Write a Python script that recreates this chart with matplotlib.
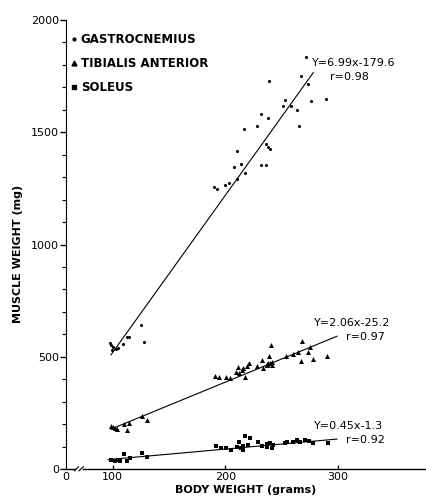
import numpy as np
import matplotlib
matplotlib.use("Agg")
import matplotlib.pyplot as plt
from matplotlib.lines import Line2D

plt.rcParams['font.family'] = ['DejaVu Sans']

# gastrocnemius (body weight g, muscle weight mg)
gas_x = [271.8, 239.2, 267.1, 273.9, 253.2, 251.1, 258.5, 264.1, 276.0, 289.3,
         232.1, 238.0, 228.0, 217.0, 265.9, 236.0, 238.3, 239.8, 210.2, 214.3,
         208.1, 232.1, 236.0, 217.6, 210.2, 203.4, 199.6, 190.3, 193.0,
         124.9, 127.8, 108.9, 112.4, 114.8, 97.6, 98.5, 100.3, 102.9, 99.4, 104.7]
gas_y = [1834, 1728, 1752, 1715, 1642, 1617, 1618, 1598, 1640, 1649,
         1583, 1564, 1528, 1514, 1527, 1446, 1436, 1427, 1416, 1357,
         1347, 1353, 1354, 1320, 1292, 1273, 1265, 1255, 1249,
         641, 567, 557, 589, 587, 561, 552, 543, 535, 530, 539]

# tibialis anterior
tib_x = [190.9, 194.8, 200.4, 204.3, 209.6, 211.1, 212.5, 214.7, 216.1, 217.9,
         219.1, 220.9, 228.0, 233.0, 233.9, 237.4, 239.2, 238.3, 240.4, 241.3,
         237.0, 240.0, 242.0, 254.0, 260.5, 265.0, 268.5, 267.4, 273.9, 275.4,
         278.3, 290.2,
         98.5, 100.5, 102.0, 104.1, 110.0, 114.8, 112.4, 126.3, 130.2]
tib_y = [414, 408, 411, 407, 431, 456, 426, 441, 449, 411,
         459, 471, 459, 486, 451, 463, 503, 471, 552, 463,
         468, 470, 475, 503, 511, 522, 571, 482, 522, 542,
         490, 503,
         193, 188, 181, 177, 200, 206, 174, 235, 218]

# soleus
sol_x = [191.8, 196.0, 200.7, 204.9, 210.2, 212.5, 213.8, 216.1, 217.6, 222.0,
         215.6, 220.5, 229.4, 232.4, 237.4, 239.8, 236.9, 241.3, 242.8, 253.2,
         255.2, 260.0, 263.6, 266.5, 270.9, 274.8, 277.8, 291.6,
         98.5, 102.0, 105.0, 106.5, 110.0, 112.4, 115.4, 125.8, 130.2]
sol_y = [104, 95, 92, 85, 99, 119, 92, 104, 147, 137,
         85, 107, 119, 104, 110, 114, 99, 95, 107, 114,
         119, 122, 129, 119, 129, 126, 117, 114,
         40, 37, 40, 37, 65, 37, 48, 73, 52]

# regression lines: slope, intercept, x range
fits = [(6.99, -179.6, 98.5, 278.3),
        (2.06, -25.2, 98.5, 299.4),
        (0.45, -1.3, 96.0, 299.4)]
eq_labels = [("Y=6.99x-179.6", "r=0.98"),
             ("Y=2.06x-25.2", "r=0.97"),
             ("Y=0.45x-1.3", "r=0.92")]
# (equation x, equation y, r x, r y) in data units
eq_pos = [(277, 1808, 293, 1746),
          (279, 650, 307, 588),
          (279, 192, 307, 129)]

fig = plt.figure(figsize=(4.26, 4.96), dpi=100)
ax = fig.add_axes([0.155, 0.0544, 0.845, 0.9053])

ax.scatter(gas_x, gas_y, marker='o', s=5, color='black', linewidths=0)
ax.scatter(tib_x, tib_y, marker='^', s=13, color='black', linewidths=0)
ax.scatter(sol_x, sol_y, marker='s', s=10, color='black', linewidths=0)

for (m, b, x0, x1) in fits:
    xs = np.array([x0, x1])
    ax.plot(xs, m * xs + b, color='black', lw=0.8)

for (eq, r), (ex, ey, rx, ry) in zip(eq_labels, eq_pos):
    ax.text(ex, ey, eq, fontsize=8, ha='left', va='center')
    ax.text(rx, ry, r, fontsize=8, ha='left', va='center')

ax.set_xlim(58.5, 378.5)
ax.set_ylim(0, 2000)

ax.spines['top'].set_visible(False)
ax.spines['right'].set_visible(False)
ax.spines['bottom'].set_visible(False)
# broken x axis
ax.plot([58.5, 66.5], [0, 0], color='black', lw=1, clip_on=False)
ax.plot([73.5, 378.5], [0, 0], color='black', lw=1, clip_on=False)
ax.plot([66.0, 69.5], [-8, 10], color='black', lw=0.8, clip_on=False)
ax.plot([70.0, 74.0], [-8, 10], color='black', lw=0.8, clip_on=False)

ax.set_yticks([0, 500, 1000, 1500, 2000])
ax.set_yticklabels(['0', '500', '1000', '1500', '2000'])
ax.set_yticks(np.arange(0, 2001, 100), minor=True)
ax.tick_params(axis='y', which='major', direction='out', length=4, width=1,
               labelsize=8, pad=1)
ax.tick_params(axis='y', which='minor', direction='out', length=3, width=0.8)

ax.set_xticks([58.5, 100, 200, 300])
ax.set_xticklabels(['0', '100', '200', '300'])
ax.tick_params(axis='x', direction='in', length=3, width=1, labelsize=8, pad=2)
ax.xaxis.get_major_ticks()[0].tick1line.set_visible(False)

ax.set_xlabel('BODY WEIGHT (grams)', fontsize=8, fontweight='bold', labelpad=0)
ax.xaxis.set_label_coords(0.50, -0.035)
ax.set_ylabel('MUSCLE WEIGHT (mg)', fontsize=8, fontweight='bold', labelpad=2)
ax.yaxis.set_label_coords(-0.12, 0.48)

handles = [Line2D([], [], marker='o', ls='', color='black', markersize=2),
           Line2D([], [], marker='^', ls='', color='black', markersize=3.5),
           Line2D([], [], marker='s', ls='', color='black', markersize=3)]
leg = ax.legend(handles, ['GASTROCNEMIUS', 'TIBIALIS ANTERIOR', 'SOLEUS'],
                loc='upper left', bbox_to_anchor=(-0.01, 0.99), frameon=False,
                handlelength=0.5, handletextpad=0.35, labelspacing=0.95,
                borderaxespad=0.3, prop={'size': 8.5, 'weight': 'bold'})

fig.savefig('out.png', dpi=100)
